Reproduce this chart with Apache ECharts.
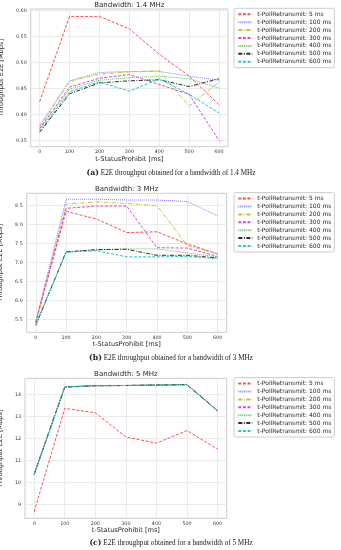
<!DOCTYPE html>
<html>
<head>
<meta charset="utf-8">
<script src="https://cdn.jsdelivr.net/npm/echarts@6/dist/echarts.min.js"></script>
<style>
html,body{margin:0;padding:0;background:#fff;}
#c{width:341px;height:550px;}
</style>
</head>
<body>
<div id="c"></div>
<script>
// ---- data ----
const xValues = [0, 100, 200, 300, 400, 500, 600];
const seriesNames = [
  't-PollRetransmit: 5 ms',
  't-PollRetransmit: 100 ms',
  't-PollRetransmit: 200 ms',
  't-PollRetransmit: 300 ms',
  't-PollRetransmit: 400 ms',
  't-PollRetransmit: 500 ms',
  't-PollRetransmit: 600 ms'
];
const panelTitles = ['Bandwidth: 1.4 MHz', 'Bandwidth: 3 MHz', 'Bandwidth: 5 MHz'];
const captionTags = ['(a)', '(b)', '(c)'];
const captionTexts = [
  'E2E throughput obtained for a bandwidth of 1.4 MHz',
  'E2E throughput obtained for a bandwidth of 3 MHz',
  'E2E throughput obtained for a bandwidth of 5 MHz'
];
const xTicks = [0, 100, 200, 300, 400, 500, 600];
const yTicks14 = [0.35, 0.40, 0.45, 0.50, 0.55, 0.60];
const yTicks3 = [5.5, 6.0, 6.5, 7.0, 7.5, 8.0, 8.5];
const yTicks5 = [9, 10, 11, 12, 13, 14];

// Bandwidth 1.4 MHz
const bw14_5ms   = [0.425, 0.589, 0.589, 0.565, 0.516, 0.474, 0.419];
const bw14_100ms = [0.379, 0.465, 0.481, 0.483, 0.483, 0.474, 0.466];
const bw14_200ms = [0.376, 0.464, 0.478, 0.482, 0.485, 0.416, 0.463];
const bw14_300ms = [0.373, 0.453, 0.470, 0.477, 0.458, 0.439, 0.350];
const bw14_400ms = [0.371, 0.449, 0.466, 0.471, 0.474, 0.469, 0.451];
const bw14_500ms = [0.366, 0.440, 0.461, 0.465, 0.467, 0.454, 0.469];
const bw14_600ms = [0.368, 0.444, 0.463, 0.445, 0.469, 0.439, 0.403];

// Bandwidth 3 MHz
const bw3_5ms   = [5.42, 8.35, 8.15, 7.79, 7.81, 7.49, 7.23];
const bw3_100ms = [5.44, 8.67, 8.67, 8.65, 8.65, 8.61, 8.23];
const bw3_200ms = [5.42, 8.54, 8.60, 8.56, 8.50, 7.45, 7.22];
const bw3_300ms = [5.43, 8.43, 8.49, 8.49, 7.39, 7.38, 7.16];
const bw3_400ms = [5.37, 7.28, 7.33, 7.36, 7.36, 7.25, 7.15];
const bw3_500ms = [5.34, 7.28, 7.34, 7.35, 7.19, 7.19, 7.12];
const bw3_600ms = [5.35, 7.27, 7.31, 7.15, 7.15, 7.16, 7.10];

// Bandwidth 5 MHz
const bw5_5ms   = [8.66, 13.36, 13.16, 12.06, 11.78, 12.35, 11.51];
const bw5_100ms = [10.36, 14.33, 14.39, 14.40, 14.42, 14.44, 13.25];
const bw5_200ms = [10.36, 14.33, 14.39, 14.40, 14.42, 14.44, 13.25];
const bw5_300ms = [10.36, 14.33, 14.39, 14.40, 14.42, 14.44, 13.25];
const bw5_400ms = [10.36, 14.33, 14.39, 14.40, 14.42, 14.44, 13.25];
const bw5_500ms = [10.36, 14.33, 14.39, 14.40, 14.42, 14.44, 13.25];
const bw5_600ms = [10.36, 14.33, 14.39, 14.40, 14.42, 14.44, 13.25];

const panelData = [
  [bw14_5ms, bw14_100ms, bw14_200ms, bw14_300ms, bw14_400ms, bw14_500ms, bw14_600ms],
  [bw3_5ms, bw3_100ms, bw3_200ms, bw3_300ms, bw3_400ms, bw3_500ms, bw3_600ms],
  [bw5_5ms, bw5_100ms, bw5_200ms, bw5_300ms, bw5_400ms, bw5_500ms, bw5_600ms]
];

// ---- styles ----
const lineStyles = [
  {color: '#ff4d4d', type: [3, 1.6]},
  {color: '#8080ff', type: [1, 1]},
  {color: '#c4c43a', type: [4, 1.5, 1, 1.5]},
  {color: '#e23fe2', type: [3, 1.6]},
  {color: '#5cc05c', type: [1, 1]},
  {color: '#2a2a2a', type: [4, 1.5, 1, 1.5]},
  {color: '#22c8c8', type: [3, 1.6]}
];
const FONT = 'DejaVu Sans';
const grids = [
  {left: 30.7, top: 9, width: 197.3, height: 137.7},
  {left: 26.7, top: 193.3, width: 200, height: 139},
  {left: 25, top: 378.3, width: 201.7, height: 140}
];
const yRanges = [[0.3381, 0.6033], [5.157, 8.827], [8.364, 14.727]];
const yTickSets = [yTicks14, yTicks3, yTicks5];
const yFormat = [v => v.toFixed(2), v => v.toFixed(1), v => String(Math.round(v))];
const yNameGap = [16.4, 12.4, 10.7];
const xNameGap = [8.7, 8.2, 8.4];
const titleY = [6, 189.7, 374.3];
const legendTop = [8.3, 192.6, 377.6];
const captionY = [172.7, 358.3, 542.7];

const option = {
  backgroundColor: '#fff',
  animation: false,
  title: panelTitles.map((t, i) => ({
    text: t,
    left: grids[i].left + grids[i].width / 2,
    top: titleY[i] - 4,
    textAlign: 'center',
    padding: 0,
    textStyle: {fontFamily: FONT, fontSize: 7, fontWeight: 'normal', color: '#262626'}
  })),
  grid: grids.map(g => Object.assign({
    show: true, borderColor: '#cccccc', borderWidth: 1, backgroundColor: 'transparent',
    containLabel: false, outerBoundsMode: 'none'
  }, g)),
  legend: legendTop.map(t => ({
    left: 234, top: t, orient: 'vertical',
    itemWidth: 14, itemHeight: 7, itemGap: 1.9,
    padding: [3, 3, 3, 3.3],
    borderColor: '#cccccc', borderWidth: 1, borderRadius: 2, backgroundColor: '#fff',
    itemStyle: {opacity: 0},
    textStyle: {fontFamily: FONT, fontSize: 6, color: '#262626'},
    data: seriesNames
  })),
  xAxis: grids.map((g, i) => ({
    type: 'value', gridIndex: i, min: -30, max: 630,
    name: 't-StatusProhibit [ms]', nameLocation: 'middle', nameGap: xNameGap[i],
    nameTextStyle: {fontFamily: FONT, fontSize: 6.6, color: '#262626'},
    axisLine: {show: false},
    axisTick: {show: false, customValues: xTicks},
    axisLabel: {customValues: xTicks, fontFamily: FONT, fontSize: 4.8, color: '#333', margin: 3},
    splitLine: {show: true, lineStyle: {color: '#e6e6e6', width: 0.8}}
  })),
  yAxis: grids.map((g, i) => ({
    type: 'value', gridIndex: i, min: yRanges[i][0], max: yRanges[i][1],
    name: 'Throughput E2E [Mbps]', nameLocation: 'middle', nameGap: yNameGap[i], nameRotate: 90,
    nameTextStyle: {fontFamily: FONT, fontSize: 6.6, color: '#262626'},
    axisLine: {show: false},
    axisTick: {show: false, customValues: yTickSets[i]},
    axisLabel: {customValues: yTickSets[i], formatter: yFormat[i], fontFamily: FONT, fontSize: 4.8, color: '#333', margin: 4},
    splitLine: {show: true, lineStyle: {color: '#e6e6e6', width: 0.8}}
  })),
  graphic: captionTexts.map((t, i) => ({
    type: 'text',
    x: 171, y: captionY[i],
    style: {
      text: '{tag|' + captionTags[i] + '} ' + t,
      rich: {tag: {fontFamily: 'DejaVu Serif', fontSize: 7.8, fontWeight: 'bold', fill: '#222'}},
      fontFamily: 'Liberation Serif', fontSize: 7.2, fill: '#222',
      align: 'center', verticalAlign: 'middle'
    }
  })),
  series: []
};

panelData.forEach((arrs, p) => {
  arrs.forEach((vals, k) => {
    option.series.push({
      type: 'line', name: seriesNames[k], xAxisIndex: p, yAxisIndex: p,
      symbol: 'none', silent: true,
      lineStyle: {color: lineStyles[k].color, width: 1, type: lineStyles[k].type},
      itemStyle: {color: lineStyles[k].color},
      data: xValues.map((x, j) => [x, vals[j]])
    });
  });
});

const chart = echarts.init(document.getElementById('c'), null, {renderer: 'canvas'});
chart.setOption(option);
</script>
</body>
</html>
